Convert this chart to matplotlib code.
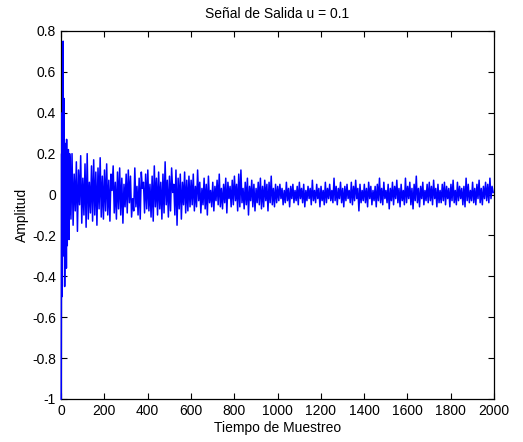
"""Señal de salida (u = 0.1)."""
import numpy as np
import matplotlib
matplotlib.use("Agg")
import matplotlib.pyplot as plt

# muestras del transitorio (todas) y del resto (cada 5)
muestras_ini = np.arange(1, 41)
muestras_res = np.arange(41, 2001, 5)

salida_ini = [
    -1.0, -0.3, 0.2, -0.5, 0.4, -0.2, 0.3, 0.1, 0.6, 0.75,
    0.1, -0.3, 0.3, 0.47, 0.0, -0.2, -0.45, -0.3, 0.1, 0.2,
    -0.2, 0.25, -0.15, 0.1, -0.36, 0.27, -0.1, 0.15, -0.25, 0.2,
    -0.2, 0.18, -0.15, 0.22, -0.18, 0.12, -0.22, 0.15, -0.1, 0.2,
]
salida_40_200 = [
    0.18, -0.12, 0.2, -0.15, 0.1, -0.08, 0.16, -0.18, 0.12, -0.05,
    0.19, -0.14, 0.08, -0.1, 0.15, -0.16, 0.2, -0.12, 0.06, -0.09,
    0.14, -0.13, 0.17, -0.1, 0.11, -0.15, 0.13, -0.07, 0.18, -0.11,
    0.09, -0.12,
]
salida_200_600 = [
    0.12, -0.08, 0.15, -0.1, 0.07, -0.13, 0.1, 0.02, 0.14, -0.09,
    0.06, -0.12, 0.11, -0.07, 0.13, -0.1, 0.08, -0.14, 0.05, -0.06,
    0.1, -0.09, 0.12, -0.04, 0.09, -0.11, -0.02, -0.08, 0.13, -0.06,
    0.04, -0.1, 0.08, -0.12, 0.11, 0.03, 0.06, -0.09, 0.1, -0.07,
    0.12, -0.08, 0.05, -0.11, 0.09, -0.13, 0.14, -0.06, 0.08, -0.1,
    0.11, -0.07, 0.06, -0.12, 0.1, -0.09, 0.16, -0.05, 0.07, -0.11,
    0.09, -0.08, 0.13, 0.01, 0.05, -0.1, 0.12, -0.15, 0.08, -0.07,
    0.1, -0.12, 0.06, -0.05, 0.11, -0.09, 0.07, -0.08, 0.09, -0.06,
]
salida_600_1000 = [
    0.07, -0.05, 0.1, -0.08, 0.04, -0.06, 0.12, -0.03, 0.06, -0.09,
    0.03, -0.05, 0.08, -0.07, 0.05, -0.1, 0.09, -0.04, 0.02, -0.06,
    0.06, -0.08, 0.04, -0.03, 0.07, -0.05, 0.1, -0.06, 0.03, -0.07,
    0.05, -0.04, 0.08, -0.09, 0.06, -0.02, 0.04, -0.06, 0.07, -0.05,
    0.09, -0.03, 0.05, -0.08, 0.1, -0.06, 0.12, -0.04, 0.03, -0.07,
    0.06, -0.05, 0.08, -0.1, 0.04, -0.03, 0.07, -0.06, 0.05, -0.08,
    0.03, -0.04, 0.06, -0.05, 0.08, -0.07, 0.04, -0.06, 0.07, -0.03,
    0.05, -0.08, 0.06, -0.04, 0.09, -0.05, 0.03, -0.06, 0.05, -0.04,
]
salida_1000_2000 = [
    0.04, -0.03, 0.05, -0.02, 0.03, -0.05, 0.02, -0.04, 0.06, -0.03,
    0.03, -0.06, 0.04, -0.02, 0.05, -0.04, 0.02, -0.03, 0.04, -0.05,
    0.06, -0.02, 0.03, -0.04, 0.05, -0.06, 0.02, -0.03, 0.04, -0.02,
    0.03, -0.05, 0.07, -0.03, 0.02, -0.04, 0.05, -0.02, 0.03, -0.06,
    0.04, -0.03, 0.02, -0.05, 0.06, -0.04, 0.03, -0.02, 0.05, -0.03,
    0.02, -0.04, 0.08, -0.03, 0.04, -0.05, 0.03, -0.02, 0.06, -0.04,
    0.03, -0.06, 0.04, -0.03, 0.05, -0.02, 0.02, -0.04, 0.06, -0.05,
    0.04, -0.03, 0.07, -0.02, 0.03, -0.08, 0.05, -0.04, 0.02, -0.03,
    0.05, -0.04, 0.03, -0.06, 0.06, -0.02, 0.04, -0.05, 0.02, -0.03,
    0.04, -0.06, 0.05, -0.03, 0.08, -0.04, 0.03, -0.05, 0.06, -0.02,
    0.02, -0.04, 0.05, -0.07, 0.03, -0.03, 0.06, -0.05, 0.04, -0.02,
    0.07, -0.04, 0.03, -0.06, 0.05, -0.03, 0.02, -0.05, 0.08, -0.04,
    0.04, -0.02, 0.06, -0.05, 0.03, -0.07, 0.05, -0.03, 0.09, -0.04,
    0.03, -0.06, 0.04, -0.02, 0.06, -0.05, 0.02, -0.03, 0.05, -0.04,
    0.06, -0.03, 0.04, -0.05, 0.07, -0.02, 0.03, -0.06, 0.05, -0.04,
    0.02, -0.04, 0.05, -0.03, 0.06, -0.05, 0.04, -0.02, 0.03, -0.06,
    0.05, -0.03, 0.07, -0.04, 0.02, -0.05, 0.06, -0.03, 0.04, -0.02,
    0.03, -0.05, 0.04, -0.06, 0.08, -0.03, 0.05, -0.04, 0.02, -0.03,
    0.06, -0.04, 0.03, -0.05, 0.05, -0.02, 0.07, -0.04, 0.03, -0.05,
    0.04, -0.02, 0.06, -0.03, 0.05, -0.04, 0.08, -0.02, 0.04, 0.01,
]

x_ticks = np.arange(0, 2001, 200)
y_ticks = np.round(np.arange(-1.0, 0.81, 0.2), 1)

muestras = np.concatenate([muestras_ini, muestras_res])
salida = np.array(salida_ini + salida_40_200 + salida_200_600
                  + salida_600_1000 + salida_1000_2000)

plt.rcParams['font.family'] = ['Liberation Sans', 'DejaVu Sans']
plt.rcParams['font.size'] = 10

fig = plt.figure(figsize=(5.23, 4.42), dpi=100)
ax = fig.add_axes([0.1166, 0.0973, 0.828, 0.8326])
# la señal arranca en -1 junto al eje, por eso va encima de los bordes
ax.plot(muestras, salida, color=(0, 0, 1), linewidth=1.1, zorder=3,
        clip_on=False)

ax.set_xlim(0, 2000)
ax.set_ylim(-1, 0.8)
ax.set_xticks(x_ticks)
ax.set_yticks(y_ticks)
ax.set_yticklabels(["-1" if v == -1 else ("0" if v == 0 else f"{v:g}")
                    for v in y_ticks])
ax.tick_params(direction="in", top=True, right=True, length=4, width=0.8)
for s in ax.spines.values():
    s.set_linewidth(0.9)

ax.set_title("Señal de Salida u = 0.1", fontsize=10, pad=9)
ax.set_xlabel("Tiempo de Muestreo", labelpad=2)
ax.set_ylabel("Amplitud", labelpad=2)

fig.savefig("out.png", dpi=100)
